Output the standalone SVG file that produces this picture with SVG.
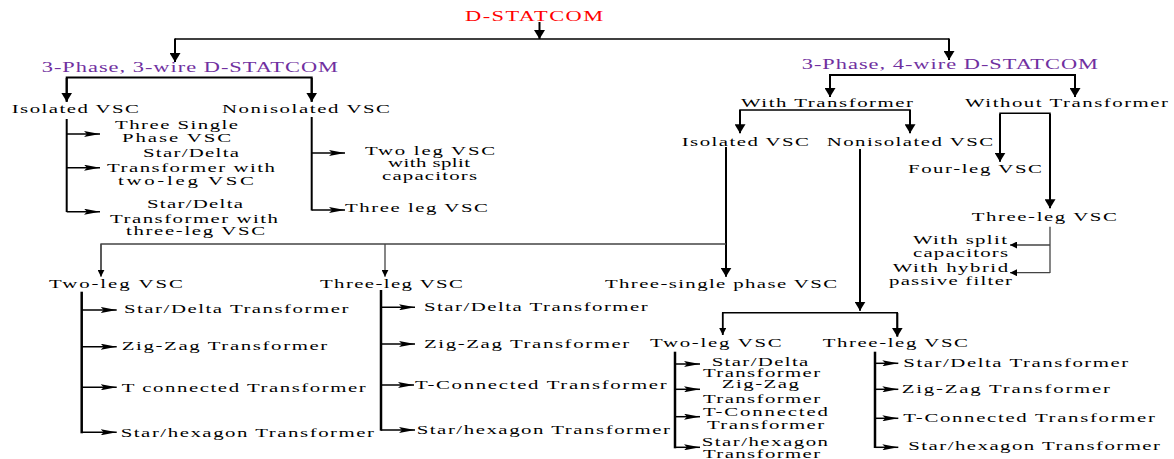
<svg xmlns="http://www.w3.org/2000/svg" width="1174" height="459" viewBox="0 0 1174 459">
<style>
text{font-family:"Liberation Serif","Times New Roman",serif;font-size:13px;fill:#000}
.h{font-size:14px;fill:#7030A0}
.r{font-size:14px;fill:#FF0000}
.k{stroke:#000;stroke-width:2;fill:none}
.m{stroke:#000;stroke-width:1.5;fill:none}
.g{stroke:#444;stroke-width:1.3;fill:none}
</style>
<defs>
<marker id="big" viewBox="0 0 10 10" refX="10" refY="5" markerWidth="9" markerHeight="11" markerUnits="userSpaceOnUse" orient="auto" preserveAspectRatio="none"><path d="M0,0 L10,5 L0,10 z" fill="#000"/></marker>
<marker id="br" viewBox="0 0 16 6" refX="16" refY="3" markerWidth="16" markerHeight="6" markerUnits="userSpaceOnUse" orient="auto" preserveAspectRatio="none"><path d="M0,0 L16,3 L0,6 L3,3 z" fill="#000"/></marker>
<marker id="sm" viewBox="0 0 10 10" refX="10" refY="5" markerWidth="7" markerHeight="7" markerUnits="userSpaceOnUse" orient="auto" preserveAspectRatio="none"><path d="M0,0 L10,5 L0,10 z" fill="#000"/></marker>
</defs>
<rect width="1174" height="459" fill="#fff"/>
<g id="connectors">
<line class="k" x1="539.5" y1="22" x2="539.5" y2="39" marker-end="url(#big)"/>
<line class="m" x1="175" y1="39" x2="949" y2="39"/>
<line class="k" x1="175" y1="38.5" x2="175" y2="62" marker-end="url(#big)"/>
<line class="k" x1="949" y1="38.5" x2="949" y2="60" marker-end="url(#big)"/>
<polyline class="k" points="66.7,101.7 66.7,77.5 311.7,77.5 311.7,101.7"/>
<line class="k" x1="66.7" y1="78" x2="66.7" y2="101.7" marker-end="url(#big)"/>
<line class="k" x1="311.7" y1="78" x2="311.7" y2="101.7" marker-end="url(#big)"/>
<line class="k" x1="66.7" y1="119" x2="66.7" y2="212"/>
<line class="m" x1="66.7" y1="134" x2="100" y2="134" marker-end="url(#br)"/>
<line class="m" x1="66.7" y1="167.7" x2="100" y2="167.7" marker-end="url(#br)"/>
<line class="m" x1="66.7" y1="211.7" x2="100" y2="211.7" marker-end="url(#br)"/>
<line class="k" x1="311.7" y1="117" x2="311.7" y2="210.5"/>
<line class="m" x1="311.7" y1="153" x2="345" y2="153" marker-end="url(#br)"/>
<line class="m" x1="311.7" y1="210" x2="345" y2="210" marker-end="url(#br)"/>
<polyline class="k" points="830,97 830,75 1075,75 1075,97"/>
<line class="k" x1="830" y1="76" x2="830" y2="97" marker-end="url(#big)"/>
<line class="k" x1="1075" y1="76" x2="1075" y2="97" marker-end="url(#big)"/>
<polyline class="m" points="740,133 740,110 910,110 910,133"/>
<line class="k" x1="740" y1="110" x2="740" y2="133.3" marker-end="url(#big)"/>
<line class="k" x1="910" y1="110" x2="910" y2="133.3" marker-end="url(#big)"/>
<polyline class="m" points="1000,161 1000,113.3 1050,113.3 1050,208"/>
<line class="k" x1="1000" y1="114" x2="1000" y2="161.7" marker-end="url(#big)"/>
<line class="k" x1="1050" y1="114" x2="1050" y2="208.3" marker-end="url(#big)"/>
<line class="g" x1="1050" y1="226.7" x2="1050" y2="273"/>
<line class="g" x1="1050" y1="245" x2="1010" y2="245" marker-end="url(#sm)"/>
<line class="g" x1="1050" y1="272.7" x2="1010" y2="272.7" marker-end="url(#sm)"/>
<line class="k" x1="726" y1="147" x2="726" y2="276.7" marker-end="url(#big)"/>
<polyline class="g" points="101,276 101,244 726,244"/>
<line class="g" x1="101" y1="244" x2="101" y2="276.7" marker-end="url(#sm)"/>
<line class="g" x1="385" y1="244" x2="385" y2="276.7" marker-end="url(#sm)"/>
<line class="k" x1="81.7" y1="291.7" x2="81.7" y2="433.3" style="stroke-width:2.5"/>
<line class="m" x1="81.7" y1="310" x2="116.7" y2="310" marker-end="url(#br)"/>
<line class="m" x1="81.7" y1="346.7" x2="116.7" y2="346.7" marker-end="url(#br)"/>
<line class="m" x1="81.7" y1="387.3" x2="116.7" y2="387.3" marker-end="url(#br)"/>
<line class="m" x1="81.7" y1="432.3" x2="116.7" y2="432.3" marker-end="url(#br)"/>
<line class="k" x1="381" y1="290" x2="381" y2="430.7" style="stroke-width:2.5"/>
<line class="m" x1="381" y1="307.3" x2="415" y2="307.3" marker-end="url(#br)"/>
<line class="m" x1="381" y1="344" x2="415" y2="344" marker-end="url(#br)"/>
<line class="m" x1="381" y1="385" x2="414" y2="385" marker-end="url(#br)"/>
<line class="m" x1="381" y1="430" x2="415" y2="430" marker-end="url(#br)"/>
<line class="k" x1="860" y1="149" x2="860" y2="310.7" marker-end="url(#big)"/>
<polyline class="m" points="722.7,335 722.7,312.7 897.3,312.7 897.3,336"/>
<line class="m" x1="722.7" y1="313" x2="722.7" y2="335" marker-end="url(#sm)"/>
<line class="k" x1="897.3" y1="313" x2="897.3" y2="336.7" marker-end="url(#big)"/>
<line class="k" x1="675" y1="351.7" x2="675" y2="448.3" style="stroke-width:2.5"/>
<line class="m" x1="675" y1="364" x2="700" y2="364" marker-end="url(#br)"/>
<line class="m" x1="675" y1="389.3" x2="700" y2="389.3" marker-end="url(#br)"/>
<line class="m" x1="675" y1="416.7" x2="700" y2="416.7" marker-end="url(#br)"/>
<line class="m" x1="675" y1="447.3" x2="700" y2="447.3" marker-end="url(#br)"/>
<line class="k" x1="875" y1="351.7" x2="875" y2="448" style="stroke-width:2.5"/>
<line class="m" x1="875" y1="363.3" x2="898.3" y2="363.3" marker-end="url(#br)"/>
<line class="m" x1="875" y1="389.3" x2="898.3" y2="389.3" marker-end="url(#br)"/>
<line class="m" x1="875" y1="418.3" x2="898.3" y2="418.3" marker-end="url(#br)"/>
<line class="m" x1="875" y1="447.3" x2="898.3" y2="447.3" marker-end="url(#br)"/>
</g>
<g id="n-dstatcom"><text class="r" transform="matrix(1.6 0 0 1 465 21)" textLength="86.3" lengthAdjust="spacing">D-STATCOM</text></g>
<g id="n-3p3w"><text class="h" transform="matrix(1.6 0 0 1 41.7 72)" textLength="185.2" lengthAdjust="spacing">3-Phase, 3-wire D-STATCOM</text></g>
<g id="n-3p4w"><text class="h" transform="matrix(1.6 0 0 1 801.7 69)" textLength="185.2" lengthAdjust="spacing">3-Phase, 4-wire D-STATCOM</text></g>
<g id="n-iso1"><text transform="matrix(1.6 0 0 1 11.7 113)" textLength="79.5" lengthAdjust="spacing">Isolated VSC</text></g>
<g id="n-noniso1"><text transform="matrix(1.6 0 0 1 222 113)" textLength="105" lengthAdjust="spacing">Nonisolated VSC</text></g>
<g id="n-tsp"><text transform="matrix(1.6 0 0 1 115 129)" textLength="76.9" lengthAdjust="spacing">Three Single</text><text transform="matrix(1.6 0 0 1 122 141.7)" textLength="68.2" lengthAdjust="spacing">Phase VSC</text></g>
<g id="n-sd2"><text transform="matrix(1.6 0 0 1 143 157)" textLength="60" lengthAdjust="spacing">Star/Delta</text><text transform="matrix(1.6 0 0 1 107 171.7)" textLength="105" lengthAdjust="spacing">Transformer with</text><text transform="matrix(1.6 0 0 1 118 185)" textLength="85" lengthAdjust="spacing">two-leg VSC</text></g>
<g id="n-sd3"><text transform="matrix(1.6 0 0 1 147 208)" textLength="60" lengthAdjust="spacing">Star/Delta</text><text transform="matrix(1.6 0 0 1 110 222.7)" textLength="105" lengthAdjust="spacing">Transformer with</text><text transform="matrix(1.6 0 0 1 126 235)" textLength="86.9" lengthAdjust="spacing">three-leg VSC</text></g>
<g id="n-2legsplit"><text transform="matrix(1.6 0 0 1 365 155)" textLength="81.3" lengthAdjust="spacing">Two leg VSC</text><text transform="matrix(1.6 0 0 1 388 167)" textLength="51.3" lengthAdjust="spacing">with split</text><text transform="matrix(1.6 0 0 1 382 180)" textLength="59.4" lengthAdjust="spacing">capacitors</text></g>
<g id="n-3leg1"><text transform="matrix(1.6 0 0 1 345 211.7)" textLength="89.3" lengthAdjust="spacing">Three leg VSC</text></g>
<g id="n-withT"><text transform="matrix(1.6 0 0 1 741 107)" textLength="107.5" lengthAdjust="spacing">With Transformer</text></g>
<g id="n-withoutT"><text transform="matrix(1.6 0 0 1 965 107)" textLength="126.9" lengthAdjust="spacing">Without Transformer</text></g>
<g id="n-iso2"><text transform="matrix(1.6 0 0 1 681.7 146)" textLength="79.5" lengthAdjust="spacing">Isolated VSC</text></g>
<g id="n-noniso2"><text transform="matrix(1.6 0 0 1 826.7 146)" textLength="104" lengthAdjust="spacing">Nonisolated VSC</text></g>
<g id="n-4leg"><text transform="matrix(1.6 0 0 1 908 172.7)" textLength="83.7" lengthAdjust="spacing">Four-leg VSC</text></g>
<g id="n-3leg4w"><text transform="matrix(1.6 0 0 1 971.7 220.7)" textLength="90.7" lengthAdjust="spacing">Three-leg VSC</text></g>
<g id="n-wsplit"><text transform="matrix(1.6 0 0 1 913 244)" textLength="58.7" lengthAdjust="spacing">With split</text><text transform="matrix(1.6 0 0 1 913 256.7)" textLength="59.4" lengthAdjust="spacing">capacitors</text></g>
<g id="n-whybrid"><text transform="matrix(1.6 0 0 1 892.7 271.7)" textLength="72.1" lengthAdjust="spacing">With hybrid</text><text transform="matrix(1.6 0 0 1 889 285)" textLength="76.9" lengthAdjust="spacing">passive filter</text></g>
<g id="n-3single"><text transform="matrix(1.6 0 0 1 605 288.3)" textLength="145" lengthAdjust="spacing">Three-single phase VSC</text></g>
<g id="n-2legA"><text transform="matrix(1.6 0 0 1 49 288.3)" textLength="83.6" lengthAdjust="spacing">Two-leg VSC</text></g>
<g id="n-3legA"><text transform="matrix(1.6 0 0 1 320 288.3)" textLength="89.3" lengthAdjust="spacing">Three-leg VSC</text></g>
<g id="n-2legA-items">
<text transform="matrix(1.6 0 0 1 124 313.3)" textLength="140.2" lengthAdjust="spacing">Star/Delta Transformer</text>
<text transform="matrix(1.6 0 0 1 121.7 350)" textLength="128.5" lengthAdjust="spacing">Zig-Zag Transformer</text>
<text transform="matrix(1.6 0 0 1 121.7 391.7)" textLength="152.5" lengthAdjust="spacing">T connected Transformer</text>
<text transform="matrix(1.6 0 0 1 120.7 436.7)" textLength="158.3" lengthAdjust="spacing">Star/hexagon Transformer</text>
</g>
<g id="n-3legA-items">
<text transform="matrix(1.6 0 0 1 424 311)" textLength="139.8" lengthAdjust="spacing">Star/Delta Transformer</text>
<text transform="matrix(1.6 0 0 1 424 348.3)" textLength="128.3" lengthAdjust="spacing">Zig-Zag Transformer</text>
<text transform="matrix(1.6 0 0 1 415 389.3)" textLength="157.3" lengthAdjust="spacing">T-Connected Transformer</text>
<text transform="matrix(1.6 0 0 1 416.7 434)" textLength="158.3" lengthAdjust="spacing">Star/hexagon Transformer</text>
</g>
<g id="n-2legB"><text transform="matrix(1.6 0 0 1 650 347.3)" textLength="82.3" lengthAdjust="spacing">Two-leg VSC</text></g>
<g id="n-3legB"><text transform="matrix(1.6 0 0 1 822.7 347.3)" textLength="90.8" lengthAdjust="spacing">Three-leg VSC</text></g>
<g id="n-2legB-items">
<text transform="matrix(1.6 0 0 1 711.7 366)" textLength="60.4" lengthAdjust="spacing">Star/Delta</text>
<text transform="matrix(1.6 0 0 1 703 377.3)" textLength="73.2" lengthAdjust="spacing">Transformer</text>
<text transform="matrix(1.6 0 0 1 721.7 388)" textLength="48.3" lengthAdjust="spacing">Zig-Zag</text>
<text transform="matrix(1.6 0 0 1 703 402.7)" textLength="73.2" lengthAdjust="spacing">Transformer</text>
<text transform="matrix(1.6 0 0 1 703 416)" textLength="78.1" lengthAdjust="spacing">T-Connected</text>
<text transform="matrix(1.6 0 0 1 707 429.3)" textLength="73.2" lengthAdjust="spacing">Transformer</text>
<text transform="matrix(1.6 0 0 1 701.7 446)" textLength="78.9" lengthAdjust="spacing">Star/hexagon</text>
<text transform="matrix(1.6 0 0 1 703 457.5)" textLength="73.2" lengthAdjust="spacing">Transformer</text>
</g>
<g id="n-3legB-items">
<text transform="matrix(1.6 0 0 1 903.3 366.7)" textLength="140.6" lengthAdjust="spacing">Star/Delta Transformer</text>
<text transform="matrix(1.6 0 0 1 901.7 392.7)" textLength="130.2" lengthAdjust="spacing">Zig-Zag Transformer</text>
<text transform="matrix(1.6 0 0 1 903.3 421.7)" textLength="157.3" lengthAdjust="spacing">T-Connected Transformer</text>
<text transform="matrix(1.6 0 0 1 908.3 450)" textLength="157.3" lengthAdjust="spacing">Star/hexagon Transformer</text>
</g>
</svg>
